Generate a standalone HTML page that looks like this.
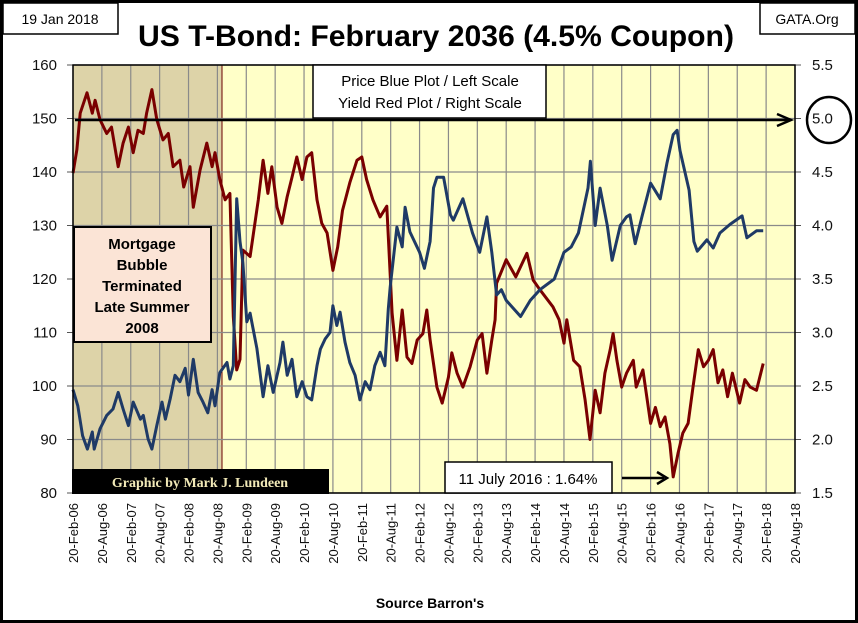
<!DOCTYPE html>
<html><head><meta charset="utf-8"><style>
html,body{margin:0;padding:0;background:#fff}
svg{display:block}
text{font-family:"Liberation Sans",sans-serif}
</style></head><body>
<svg id="chart" width="858" height="623" viewBox="0 0 858 623" xmlns="http://www.w3.org/2000/svg">
<rect x="1.5" y="1.5" width="855" height="620" fill="#fff" stroke="#000" stroke-width="3"/>
<rect x="3" y="3" width="115" height="31" fill="#fff" stroke="#000" stroke-width="1.5"/>
<text x="60" y="24" font-size="14" text-anchor="middle">19 Jan 2018</text>
<rect x="760" y="3" width="95" height="31" fill="#fff" stroke="#000" stroke-width="1.5"/>
<text x="807" y="24" font-size="14" text-anchor="middle">GATA.Org</text>
<text x="436" y="46" font-size="30" font-weight="bold" text-anchor="middle" textLength="596" lengthAdjust="spacingAndGlyphs">US T-Bond: February 2036 (4.5% Coupon)</text>
<rect x="73" y="65" width="722" height="428" fill="#ffffc8"/>
<rect x="73" y="65" width="149" height="405" fill="#ddd3a8" stroke="#6a0000" stroke-width="1"/>
<g id="grid"></g>
<g id="series"></g>
<g id="axes"></g>
<rect x="313" y="65" width="233" height="53" fill="#fff" stroke="#000" stroke-width="1.5"/>
<text x="430" y="86" font-size="15" text-anchor="middle">Price Blue Plot / Left Scale</text>
<text x="430" y="108" font-size="15" text-anchor="middle">Yield Red Plot / Right Scale</text>
<line x1="75" y1="120" x2="788" y2="120" stroke="#000" stroke-width="2.5"/>
<polyline points="777,114 791,120 777,126" fill="none" stroke="#000" stroke-width="2.5"/>
<ellipse cx="829" cy="120" rx="22" ry="23" fill="none" stroke="#000" stroke-width="2.5"/>
<rect x="74" y="227" width="137" height="115" fill="#fbe4d6" stroke="#000" stroke-width="2"/>
<g font-size="15" font-weight="bold" text-anchor="middle">
<text x="142" y="249">Mortgage</text><text x="142" y="270">Bubble</text><text x="142" y="291">Terminated</text><text x="142" y="312">Late Summer</text><text x="142" y="333">2008</text></g>
<rect x="72" y="469" width="257" height="25" fill="#000"/>
<text x="200" y="487" font-size="14" font-weight="bold" fill="#f2eab8" text-anchor="middle" style="font-family:'Liberation Serif',serif">Graphic by Mark J. Lundeen</text>
<rect x="445" y="462" width="167" height="31" fill="#fff" stroke="#000" stroke-width="1.5"/>
<text x="528" y="484" font-size="15" text-anchor="middle">11 July 2016 : 1.64%</text>
<line x1="622" y1="478" x2="664" y2="478" stroke="#000" stroke-width="2.5"/>
<polyline points="657,472 667,478 657,484" fill="none" stroke="#000" stroke-width="2.5"/>
<text x="430" y="608" font-size="14" font-weight="bold" text-anchor="middle">Source Barron's</text>
</svg>
<script>
const xLabels=["20-Feb-06","20-Aug-06","20-Feb-07","20-Aug-07","20-Feb-08","20-Aug-08","20-Feb-09","20-Aug-09","20-Feb-10","20-Aug-10","20-Feb-11","20-Aug-11","20-Feb-12","20-Aug-12","20-Feb-13","20-Aug-13","20-Feb-14","20-Aug-14","20-Feb-15","20-Aug-15","20-Feb-16","20-Aug-16","20-Feb-17","20-Aug-17","20-Feb-18","20-Aug-18"];
const leftTicks=[80,90,100,110,120,130,140,150,160];
const rightTicks=["1.5","2.0","2.5","3.0","3.5","4.0","4.5","5.0","5.5"];
// months since Feb-2006
const priceMonths=[0,1,2,3,4,4.4,5.6,7,8.3,9.4,10.4,11.5,12.5,14,14.6,15.6,16.4,17.4,18.5,19.2,20.2,21.2,22.2,23.3,24,25,26,27,28,28.9,29.5,30.5,32,32.6,33.3,34,34.7,35.3,36.1,36.8,38.2,39.5,40.5,41.6,43,43.6,44.5,45.5,46.5,47.6,48.6,49.6,50.7,51.4,52.4,53.4,54,54.8,55.5,56.5,57.5,58.6,59.6,60.7,61.7,62.7,63.8,64.8,65.5,65.9,67.3,68.4,69,70,72,73,74.2,74.9,75.6,77,78.4,79,81,83,84.5,86,87,88,89,90,91,93,95,97,100,102,103.5,105,107,107.5,108.5,109.5,111,112,113.7,115,115.7,116.8,118.2,120,122,123.4,124.7,125.5,126.1,128,129,129.7,131.7,133,134.4,136.5,139,140,142,143.4];
const priceValues=[99.3,96.3,90.7,88.2,91.4,88.2,92,94.5,95.7,98.8,95.7,92.6,97,93.8,94.5,90.1,88.2,92.6,97,93.8,97.6,102,100.8,103.3,98.3,105,98.8,97,95,99.3,96.3,102.5,104.4,101.3,103.8,135,127,123,112,113.6,107,98,103.8,98.8,104.4,108.2,102,105,98,100.8,98,97.4,103.8,106.9,108.8,110,115,111.3,113.8,108.2,104.4,102,97.4,100.8,99.3,103.8,106.3,103.8,114.4,118.5,129.7,126,133.4,128.8,125,122,127,137,139,139,132,131,135,128.6,125,131.6,125,117,118,116,115,113,116,118,120,125,126,128.6,137,142,130,137,130,123.5,130,131.6,132,126.6,131.6,137.9,135,141.7,147,147.8,144,136.6,127,125.2,127.3,125.8,128.6,130.2,131.8,127.7,129,129,125.8];
const yieldMonths=[0,0.8,1.5,2.9,4,4.6,5.6,7,8,9.4,10.4,11.5,12.5,13.5,14.6,15.3,16.4,17.4,18.7,19.8,20.8,22.2,23,24.3,25,26.4,27.8,28.9,29.5,30.5,31.6,32.6,33.3,34,34.7,35.3,36.8,38.5,39.5,40.5,41.3,42.4,43.4,44.5,45.5,46.5,47.6,48.6,49.6,50.7,51.7,52.8,54,55,56,57.5,59,60,61,62.3,63.8,65.2,66.3,67.3,68.4,69.4,70.4,71.5,72.7,73.5,74.2,75.6,76.7,78,78.7,79.8,81,82.5,84,85,86,87,87.7,88,90,92,94.3,95.6,97,99.7,101,102,102.6,104,105.3,106.4,107.4,108.5,109.5,110.5,111.6,112.2,113,114,115,116.4,117,118.4,120,121,122,123,124,124.7,125.7,126.7,127.8,128.8,129.9,131,132,133,134,135,136,137,138.5,139.6,140.7,142,143.4];
const yieldValues=[4.49,4.71,5.05,5.24,5.05,5.17,4.99,4.86,4.92,4.55,4.77,4.92,4.68,4.89,4.86,5.05,5.27,4.99,4.8,4.86,4.55,4.61,4.36,4.55,4.17,4.52,4.77,4.55,4.68,4.43,4.24,4.3,3.15,2.65,2.75,3.77,3.71,4.24,4.61,4.3,4.55,4.17,4.02,4.27,4.45,4.64,4.43,4.64,4.68,4.24,4.02,3.93,3.58,3.8,4.14,4.4,4.61,4.64,4.43,4.24,4.08,4.18,3.18,2.74,3.21,2.77,2.71,2.93,2.99,3.21,2.93,2.49,2.34,2.58,2.81,2.62,2.49,2.68,2.93,2.99,2.62,2.93,3.12,3.46,3.68,3.52,3.74,3.49,3.4,3.24,3.12,2.9,3.12,2.74,2.68,2.37,2.0,2.46,2.25,2.62,2.84,2.99,2.74,2.49,2.62,2.74,2.49,2.65,2.15,2.3,2.12,2.21,1.96,1.65,1.87,2.06,2.15,2.49,2.84,2.68,2.74,2.84,2.53,2.65,2.4,2.62,2.34,2.56,2.49,2.46,2.71];
const NS="http://www.w3.org/2000/svg";
const X0=73,X1=795,Y0=65,Y1=493;
const xScale=m=>X0+(m/150)*(X1-X0);
const yLeft=v=>Y1-(v-80)/80*(Y1-Y0);
const yRight=v=>Y1-(v-1.5)/4*(Y1-Y0);
function mk(tag,attrs,parent){const e=document.createElementNS(NS,tag);for(const k in attrs)e.setAttribute(k,attrs[k]);parent.appendChild(e);return e;}
const grid=document.getElementById('grid'),axes=document.getElementById('axes'),series=document.getElementById('series');
xLabels.forEach((lab,i)=>{
  const x=xScale(i*6);
  const gl=mk('line',{x1:x,y1:Y0,x2:x,y2:Y1,stroke:'#8a8a8a','stroke-width':1.2},grid);
  
  
  const t=mk('text',{x:0,y:0,'font-size':13,fill:'#111','text-anchor':'end',transform:`translate(${x+5},503) rotate(-90)`},axes);
  t.textContent=lab;
  
  
});
leftTicks.forEach((v,i)=>{
  const y=yLeft(v);
  const gl=mk('line',{x1:X0,y1:y,x2:X1,y2:y,stroke:'#8a8a8a','stroke-width':1.2},grid);
  
  
  const t=mk('text',{x:57,y:y+5,'font-size':15,fill:'#111','text-anchor':'end'},axes);
  t.textContent=v;
  
  
  const tk=mk('line',{x1:X0-6,y1:y,x2:X0,y2:y,stroke:'#555'},axes);
  
  
});
rightTicks.forEach(v=>{
  const y=yRight(parseFloat(v));
  const t=mk('text',{x:812,y:y+5,'font-size':15,fill:'#111'},axes);
  t.textContent=v;
  
  
  const tk=mk('line',{x1:X1,y1:y,x2:X1+6,y2:y,stroke:'#555'},axes);
  
  
});
const ax=mk('rect',{x:X0,y:Y0,width:X1-X0,height:Y1-Y0,fill:'none',stroke:'#000','stroke-width':1.5},axes);


const yl=mk('polyline',{points:yieldMonths.map((m,i)=>xScale(m).toFixed(1)+','+yRight(yieldValues[i]).toFixed(1)).join(' '),fill:'none',stroke:'#7a0000','stroke-width':3,'stroke-linejoin':'round'},series);


const pl=mk('polyline',{points:priceMonths.map((m,i)=>xScale(m).toFixed(1)+','+yLeft(priceValues[i]).toFixed(1)).join(' '),fill:'none',stroke:'#1f3a66','stroke-width':3,'stroke-linejoin':'round'},series);


</script>
</body></html>
